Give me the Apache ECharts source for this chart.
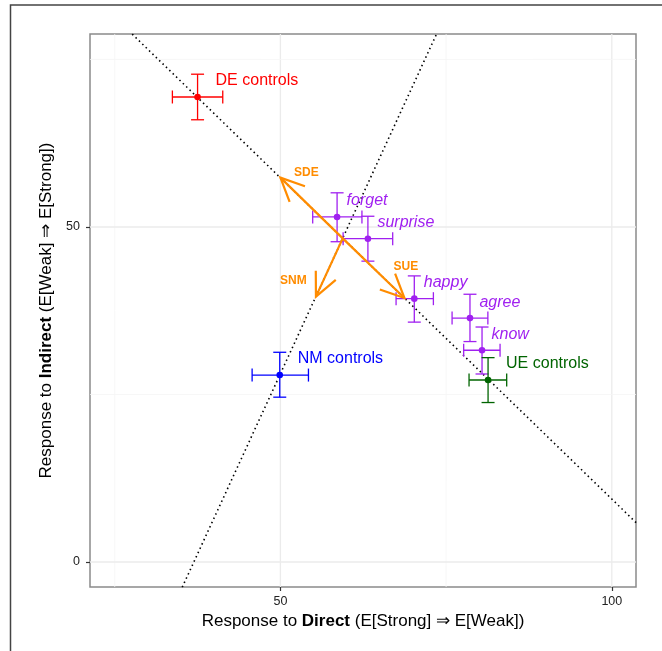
<!DOCTYPE html>
<html>
<head>
<meta charset="utf-8">
<script src="https://cdn.jsdelivr.net/npm/echarts@6/dist/echarts.min.js"></script>
<style>
html,body{margin:0;padding:0;background:#fff;}
#chart{width:662px;height:651px;}
</style>
</head>
<body>
<div id="chart"></div>
<script>
// ---- data ----
const pointNames = ['DE controls','forget','surprise','happy','agree','know','UE controls','NM controls'];
const pointGroup = ['DE','word','word','word','word','word','UE','NM'];
const pointX     = [37.5, 58.55, 63.2, 70.2, 78.6, 80.42, 81.33, 49.9];
const pointY     = [69.4, 51.5, 48.25, 39.3, 36.4, 31.6, 27.16, 27.9];
const xLow       = [33.7, 54.87, 59.46, 67.45, 75.9, 77.65, 78.46, 45.73];
const xHigh      = [41.3, 62.3, 66.94, 73.08, 81.3, 83.14, 84.14, 54.23];
const yLow       = [66.0, 47.8, 44.9, 35.8, 32.9, 28.06, 23.8, 24.6];
const yHigh      = [72.8, 55.1, 51.6, 42.7, 39.96, 35.07, 30.5, 31.3];

// dotted reference lines (endpoints, clipped to panel)
const lineDEUE = [[20, 86.1], [105, 4.6]];
const lineNM   = [[34, -6.32], [75, 81.9]];

// arrows from common origin
const arrowOrigin = [59.4, 48.3];
const arrowNames  = ['SDE', 'SUE', 'SNM'];
const arrowTipX   = [50.0, 68.71, 55.36];
const arrowTipY   = [57.36, 39.4, 39.6];

// axes
const xMajorTicks = [50, 100];
const xMinorTicks = [25, 75];
const yMajorTicks = [0, 50];
const yMinorTicks = [25, 75];

// ---- styles ----
const FONT = '"Liberation Sans", Arial, Helvetica, sans-serif';
const groupColors = {DE:'#ff0000', word:'#a020f0', UE:'#006400', NM:'#0000ff'};
const labelDx = {DE:18, word:9.5, UE:18, NM:18};
const ORANGE = '#ff8c00';
const arrowLabelOffset = {SDE:[26, -4.5], SUE:[1.5, -31], SNM:[-22.5, -15.5]};

const pointData = pointNames.map((n, i) => [pointX[i], pointY[i], xLow[i], xHigh[i], yLow[i], yHigh[i]]);
const arrowData = arrowNames.map((n, i) => [arrowOrigin[0], arrowOrigin[1], arrowTipX[i], arrowTipY[i]]);
const gridData = []
  .concat(xMinorTicks.map(v => [v, 0, 0]))
  .concat(xMajorTicks.map(v => [v, 0, 1]))
  .concat(yMinorTicks.map(v => [v, 1, 0]))
  .concat(yMajorTicks.map(v => [v, 1, 1]));

function renderGrid(params, api) {
  const cs = params.coordSys;
  const v = api.value(0), dim = api.value(1), major = api.value(2);
  const style = {stroke: major ? '#ebebeb' : '#f5f5f5', lineWidth: major ? 1.3 : 0.8};
  if (dim === 0) {
    const p = api.coord([v, 0]);
    return {type:'line', shape:{x1:p[0], y1:cs.y, x2:p[0], y2:cs.y + cs.height}, style};
  } else {
    const p = api.coord([30, v]);
    return {type:'line', shape:{x1:cs.x, y1:p[1], x2:cs.x + cs.width, y2:p[1]}, style};
  }
}

function renderPoint(params, api) {
  const i = params.dataIndex;
  const x = api.value(0), y = api.value(1);
  const c = api.coord([x, y]);
  const l = api.coord([api.value(2), y]);
  const r = api.coord([api.value(3), y]);
  const b = api.coord([x, api.value(4)]);
  const t = api.coord([x, api.value(5)]);
  const g = pointGroup[i];
  const col = groupColors[g];
  const cap = 6.5;
  const ls = {stroke: col, lineWidth: 1.3};
  const children = [
    {type:'line', shape:{x1:l[0], y1:c[1], x2:r[0], y2:c[1]}, style: ls},
    {type:'line', shape:{x1:l[0], y1:c[1]-cap, x2:l[0], y2:c[1]+cap}, style: ls},
    {type:'line', shape:{x1:r[0], y1:c[1]-cap, x2:r[0], y2:c[1]+cap}, style: ls},
    {type:'line', shape:{x1:c[0], y1:t[1], x2:c[0], y2:b[1]}, style: ls},
    {type:'line', shape:{x1:c[0]-cap, y1:t[1], x2:c[0]+cap, y2:t[1]}, style: ls},
    {type:'line', shape:{x1:c[0]-cap, y1:b[1], x2:c[0]+cap, y2:b[1]}, style: ls},
    {type:'circle', shape:{cx:c[0], cy:c[1], r:3.3}, style:{fill: col}},
    {type:'text', x: c[0] + labelDx[g], y: c[1] - 16,
     style:{text: pointNames[i], fill: col, fontSize: 16, fontFamily: FONT,
            fontStyle: g === 'word' ? 'italic' : 'normal', align:'left', verticalAlign:'middle'}}
  ];
  return {type:'group', children};
}

function renderArrow(params, api) {
  const i = params.dataIndex;
  const p0 = api.coord([api.value(0), api.value(1)]);
  const p1 = api.coord([api.value(2), api.value(3)]);
  const dx = p1[0] - p0[0], dy = p1[1] - p0[1];
  const len = Math.sqrt(dx*dx + dy*dy);
  const bx = -dx/len, by = -dy/len;
  const ang = 25 * Math.PI / 180, hl = 26;
  const h1 = [p1[0] + hl*(bx*Math.cos(ang) - by*Math.sin(ang)), p1[1] + hl*(bx*Math.sin(ang) + by*Math.cos(ang))];
  const h2 = [p1[0] + hl*(bx*Math.cos(-ang) - by*Math.sin(-ang)), p1[1] + hl*(bx*Math.sin(-ang) + by*Math.cos(-ang))];
  const st = {stroke: ORANGE, lineWidth: 2.2, fill: null};
  const off = arrowLabelOffset[arrowNames[i]];
  return {type:'group', children:[
    {type:'line', shape:{x1:p0[0], y1:p0[1], x2:p1[0], y2:p1[1]}, style: st},
    {type:'polyline', shape:{points:[h1, p1, h2]}, style: st},
    {type:'text', x: p1[0] + off[0], y: p1[1] + off[1],
     style:{text: arrowNames[i], fill: ORANGE, fontSize: 12, fontWeight:'bold', fontFamily: FONT,
            align:'center', verticalAlign:'middle'}}
  ]};
}

const chart = echarts.init(document.getElementById('chart'), null, {renderer:'canvas'});
const axisLabelStyle = {color:'#222', fontSize:12.5, fontFamily: FONT};
const titleRich = {
  n: {fontSize: 17, fontFamily: FONT, color: '#000'},
  b: {fontSize: 17, fontFamily: FONT, color: '#000', fontWeight: 'bold'}
};
chart.setOption({
  animation: false,
  backgroundColor: '#fff',
  graphic: [{type:'rect', shape:{x:10.5, y:5, width:800, height:800}, style:{fill:null, stroke:'#444', lineWidth:1.5}, z: 100}],
  grid: {left: 90, right: 26, top: 34, bottom: 64, show: true, borderColor: '#8a8a8a', borderWidth: 1.5, backgroundColor: 'transparent'},
  xAxis: {
    type: 'value', min: 21.27, max: 103.65,
    axisLine: {show: false, onZero: false},
    splitLine: {show: false},
    axisTick: {show: true, length: 4, lineStyle: {color:'#333', width: 1.2}, customValues: xMajorTicks},
    axisLabel: Object.assign({margin: 8, customValues: xMajorTicks}, axisLabelStyle),
    name: '{n|Response to }{b|Direct}{n| (E[Strong] ⇒ E[Weak])}',
    nameLocation: 'middle', nameGap: 24,
    nameTextStyle: {rich: titleRich}
  },
  yAxis: {
    type: 'value', min: -3.73, max: 78.8,
    axisLine: {show: false, onZero: false},
    splitLine: {show: false},
    axisTick: {show: true, length: 4, lineStyle: {color:'#333', width: 1.2}, customValues: yMajorTicks},
    axisLabel: Object.assign({margin: 10, customValues: yMajorTicks}, axisLabelStyle),
    name: '{n|Response to }{b|Indirect}{n| (E[Weak] ⇒ E[Strong])}',
    nameLocation: 'middle', nameGap: 33,
    nameTextStyle: {rich: titleRich}
  },
  series: [
    {type:'custom', renderItem: renderGrid, data: gridData, silent: true, z: 0, clip: true},
    {type:'line', data: lineDEUE, showSymbol: false, symbol:'none', clip: true, silent: true, z: 1,
     lineStyle: {color:'#000', width: 1.6, type: [1.5, 3.2], cap: 'butt'}},
    {type:'line', data: lineNM, showSymbol: false, symbol:'none', clip: true, silent: true, z: 1,
     lineStyle: {color:'#000', width: 1.6, type: [1.5, 3.2], cap: 'butt'}},
    {type:'custom', renderItem: renderPoint, data: pointData, silent: true, z: 3, clip: false},
    {type:'custom', renderItem: renderArrow, data: arrowData, silent: true, z: 4, clip: false}
  ]
});
</script>
</body>
</html>
